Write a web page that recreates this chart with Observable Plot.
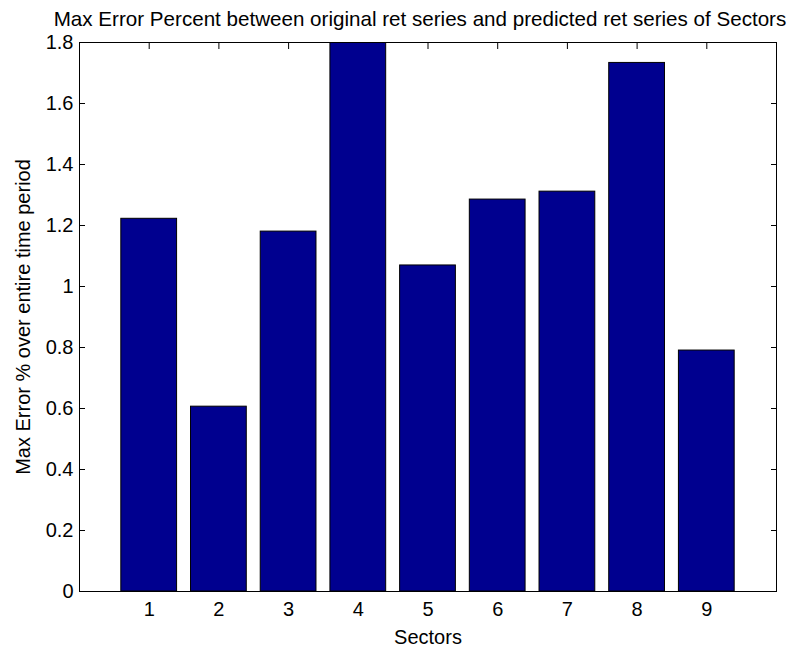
<!DOCTYPE html>
<html>
<head>
<meta charset="utf-8">
<script src="https://cdn.jsdelivr.net/npm/d3@7"></script>
<script src="https://cdn.jsdelivr.net/npm/@observablehq/plot@0.6"></script>
<style>
  html, body { margin: 0; padding: 0; background: #fff; }
  #chart svg { display: block; }
</style>
</head>
<body>
<div id="chart"></div>
<script>
const sectors = [1, 2, 3, 4, 5, 6, 7, 8, 9];
const maxErrorPct = [1.222, 0.606, 1.180, 1.86, 1.069, 1.285, 1.311, 1.733, 0.790];
const yTicks = [0, 0.2, 0.4, 0.6, 0.8, 1, 1.2, 1.4, 1.6, 1.8];
const xTicks = [1, 2, 3, 4, 5, 6, 7, 8, 9];
const titleText = "Max Error Percent between original ret series and predicted ret series of Sectors";
const xLabel = "Sectors";
const yLabel = "Max Error % over entire time period";

const data = sectors.map((s, i) => ({sector: s, value: maxErrorPct[i]}));
const barHalf = 0.4;
const fontSize = 20;
const tf = d => String(+d.toFixed(1));

const plot = Plot.plot({
  width: 799,
  height: 650,
  marginLeft: 79,
  marginRight: 23,
  marginTop: 42,
  marginBottom: 59,
  style: {fontFamily: "'Liberation Sans', Arial, sans-serif", fontSize: fontSize + "px", color: "#000", background: "#fff"},
  x: {domain: [0, 10]},
  y: {domain: [0, 1.8]},
  marks: [
    Plot.axisY(yTicks, {anchor: "left", tickSize: -6, tickPadding: 12, tickFormat: tf, label: yLabel, labelAnchor: "center", labelArrow: "none", labelOffset: 64, fontSize: fontSize}),
    Plot.axisY(yTicks, {anchor: "right", tickSize: -6, tickFormat: () => "", label: null}),
    Plot.axisX(xTicks, {anchor: "bottom", tickSize: -6, tickPadding: 16, label: xLabel, labelAnchor: "center", labelArrow: "none", labelOffset: 52, fontSize: fontSize}),
    Plot.axisX(xTicks, {anchor: "top", tickSize: -6, tickFormat: () => "", label: null}),
    Plot.rectY(data, {x1: d => d.sector - barHalf, x2: d => d.sector + barHalf, y1: 0, y2: "value", fill: "#00008f", stroke: "#000", strokeWidth: 1, clip: true}),
    Plot.frame({stroke: "#000", strokeWidth: 1}),
    Plot.text([titleText], {frameAnchor: "top", lineAnchor: "middle", dy: -23, dx: -8, fontSize: 20.6, fill: "#000"})
  ]
});
document.getElementById("chart").appendChild(plot);
</script>
</body>
</html>
